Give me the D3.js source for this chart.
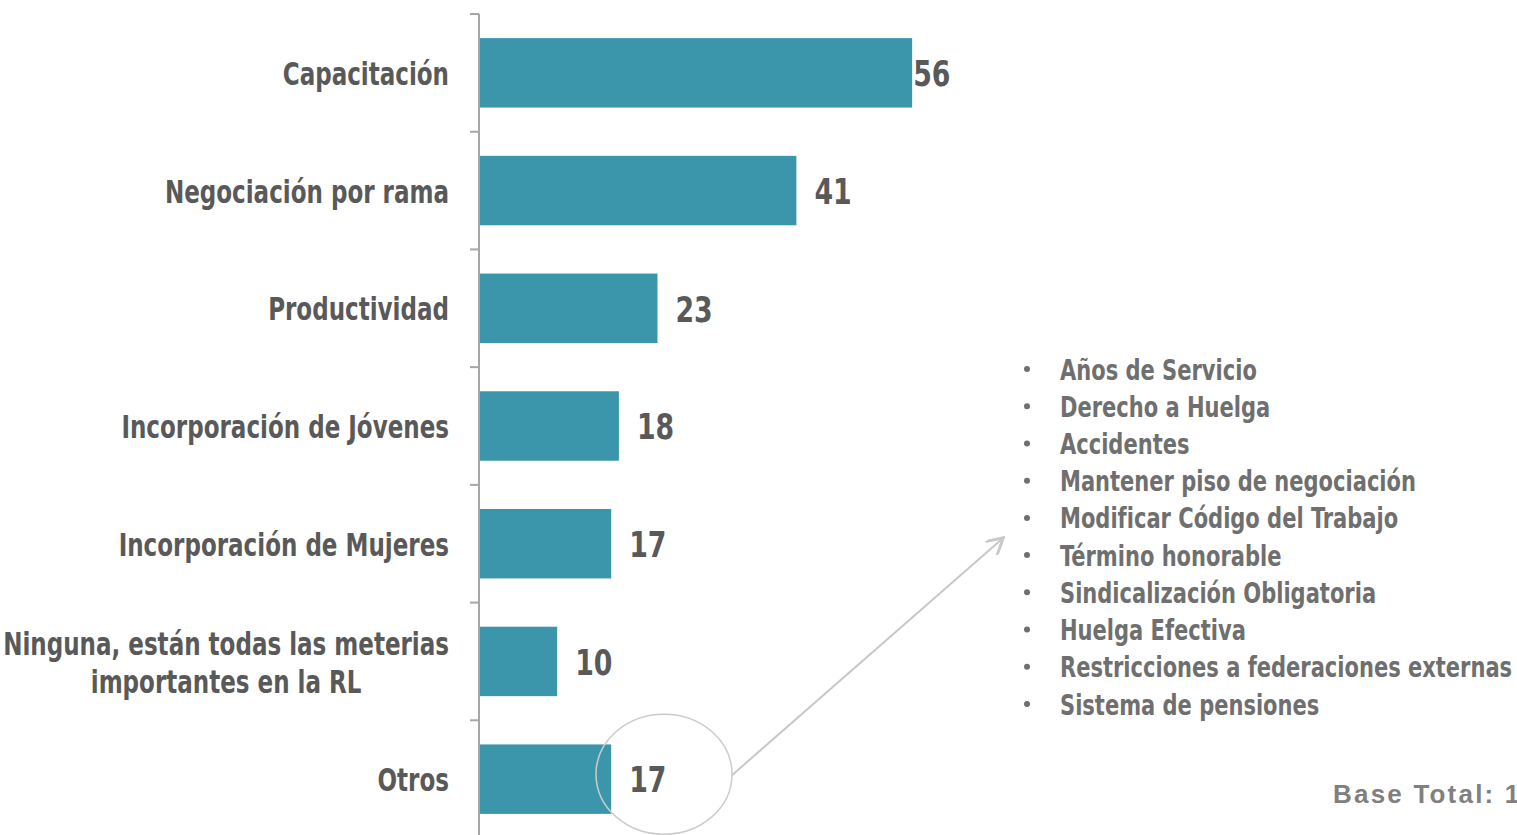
<!DOCTYPE html>
<html lang="es">
  <head>
    <meta charset="utf-8">
    <title>Materias</title>
    <style>
      body { margin: 0; background: #fff; }
      svg { display: block; }
    </style>
  </head>
  <body>
    <svg id="chart" width="1517" height="835"></svg>
  </body>
  <script src="https://cdn.jsdelivr.net/npm/d3@7"></script>
  <script type="text/javascript">

    // data
    var categories = ['Capacitación', 'Negociación por rama', 'Productividad',
      'Incorporación de Jóvenes', 'Incorporación de Mujeres',
      'Ninguna, están todas las meterias|importantes en la RL', 'Otros'];
    var values = [56, 41, 23, 18, 17, 10, 17];
    var otrosList = ['Años de Servicio', 'Derecho a Huelga', 'Accidentes',
      'Mantener piso de negociación', 'Modificar Código del Trabajo',
      'Término honorable', 'Sindicalización Obligatoria', 'Huelga Efectiva',
      'Restricciones a federaciones externas', 'Sistema de pensiones'];
    var baseLabel = 'Base Total: 1';

    // no narrow font here, so squeeze DejaVu Condensed horizontally
    var font = "'Liberation Sans Narrow', 'DejaVu Sans Condensed', sans-serif";
    var squeeze = 0.80;
    var svg = d3.select('#chart');

    var x = d3.scaleLinear().domain([0, 60]).range([480, 480 + 463]);
    var y = d3.scaleBand().domain(categories).range([14, 838])
      .paddingInner(0.41).paddingOuter(0.205);

    // axis line + ticks on band boundaries
    var step = y.step();
    var bounds = d3.range(categories.length + 1).map(function(i) { return 14 + i * step; });
    svg.append('line').attr('x1', 479).attr('x2', 479).attr('y1', 14).attr('y2', 838)
      .attr('stroke', '#a6a6a6').attr('stroke-width', 2);
    svg.selectAll('.tk').data(bounds).enter().append('line')
      .attr('class', 'tk')
      .attr('x1', 470).attr('x2', 479)
      .attr('y1', function(d) { return d; }).attr('y2', function(d) { return d; })
      .attr('stroke', '#a6a6a6').attr('stroke-width', 2);

    var rows = categories.map(function(c, i) { return {cat: c, val: values[i]}; });
    var maxVal = d3.max(values);

    svg.selectAll('.bar').data(rows).enter().append('rect')
      .attr('class', 'bar')
      .attr('x', x(0))
      .attr('y', function(d) { return y(d.cat); })
      .attr('width', function(d) { return x(d.val) - x(0); })
      .attr('height', y.bandwidth())
      .attr('fill', '#3c96ab');

    svg.selectAll('.val').data(rows).enter().append('text')
      .attr('class', 'val')
      .attr('transform', function(d) {
        var vx = x(d.val) + (d.val === maxVal ? 1 : 18);
        var vy = y(d.cat) + y.bandwidth() / 2;
        return 'translate(' + vx + ',' + vy + ') scale(0.85,1)';
      })
      .attr('dy', '0.38em')
      .attr('font-family', font).attr('font-weight', 'bold').attr('font-size', 35)
      .attr('fill', '#595959')
      .text(function(d) { return d.val; });

    // category labels: block right-aligned to the axis, lines centred inside it
    svg.selectAll('.lbl').data(rows).enter().append('g')
      .attr('class', 'lbl')
      .attr('transform', function(d) {
        return 'translate(449,' + (y(d.cat) + y.bandwidth() / 2) + ') scale(' + squeeze + ',1)';
      })
      .each(function(d) {
        var parts = d.cat.split('|');
        var g = d3.select(this);
        var t = g.append('text')
          .attr('text-anchor', 'middle')
          .attr('font-family', font).attr('font-weight', 'bold').attr('font-size', 32)
          .attr('fill', '#595959');
        var spans = parts.map(function(p, i) {
          return t.append('tspan')
            .attr('y', (i - (parts.length - 1) / 2) * 38)
            .attr('dy', '0.38em')
            .text(p);
        });
        var w = d3.max(spans, function(s) { return s.node().getComputedTextLength(); });
        spans.forEach(function(s) { s.attr('x', -w / 2); });
      });

    // ellipse around "Otros" and arrow to the list
    var last = categories[categories.length - 1];
    var ecy = y(last) + y.bandwidth() / 2 - 5;
    svg.append('ellipse').attr('cx', 664).attr('cy', ecy).attr('rx', 68).attr('ry', 60)
      .attr('fill', 'none').attr('stroke', '#cccccc').attr('stroke-width', 1.5);

    svg.append('defs').append('marker')
      .attr('id', 'arr').attr('viewBox', '0 0 10 10').attr('refX', 8).attr('refY', 5)
      .attr('markerWidth', 9).attr('markerHeight', 9).attr('orient', 'auto')
      .append('path').attr('d', 'M0,0 L9,5 L0,10').attr('fill', 'none')
      .attr('stroke', '#c8c8c8').attr('stroke-width', 1.6);
    svg.append('line').attr('x1', 732).attr('y1', ecy + 1).attr('x2', 1002).attr('y2', 539)
      .attr('stroke', '#c8c8c8').attr('stroke-width', 2).attr('marker-end', 'url(#arr)');

    // list of "otros"
    var ly = d3.scalePoint().domain(otrosList).range([369, 704]);
    var items = svg.selectAll('.item').data(otrosList).enter().append('g')
      .attr('class', 'item')
      .attr('transform', function(d) { return 'translate(0,' + ly(d) + ')'; });
    items.append('circle').attr('cx', 1027).attr('cy', 0).attr('r', 3).attr('fill', '#6f6f6f');
    items.append('text')
      .attr('transform', 'translate(1060,0) scale(0.82,1)')
      .attr('dy', '0.37em')
      .attr('font-family', font).attr('font-weight', 'bold').attr('font-size', 28.5)
      .attr('fill', '#6f6f6f')
      .text(function(d) { return d; });

    svg.append('text').attr('x', 1333).attr('y', 803)
      .attr('font-family', "'Liberation Sans', Arial, sans-serif").attr('font-weight', 'bold')
      .attr('font-size', 26).attr('letter-spacing', 2.2).attr('fill', '#808080')
      .text(baseLabel);

  </script>
</html>
